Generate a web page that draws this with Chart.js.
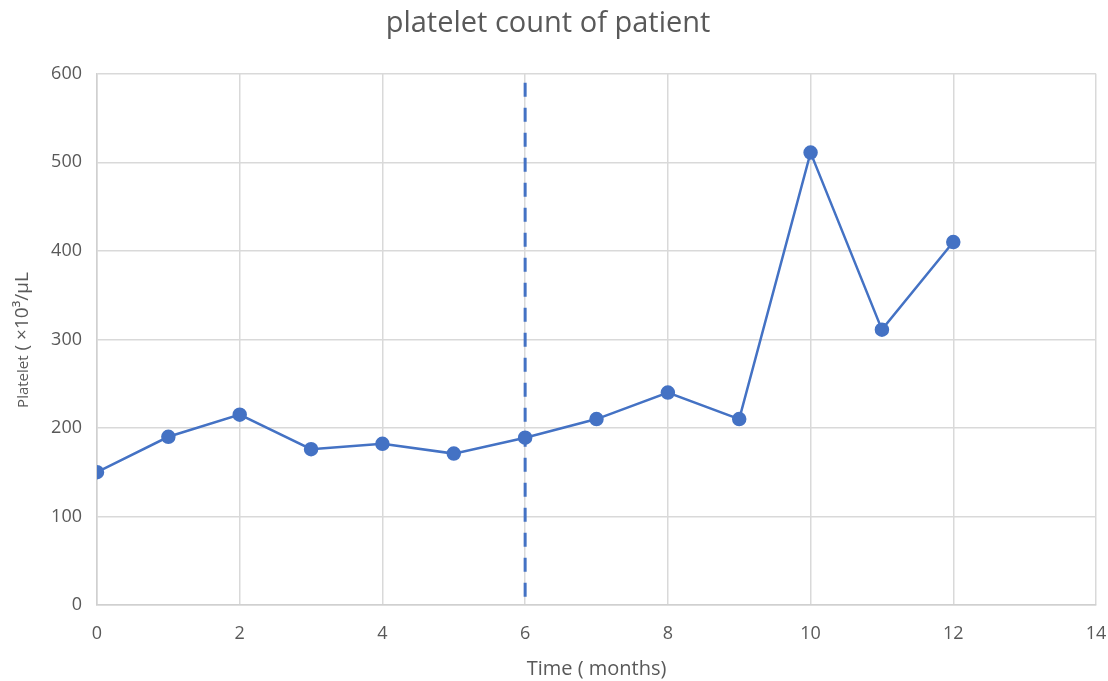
<!DOCTYPE html>
<html>
<head>
<meta charset="utf-8">
<script src="https://cdn.jsdelivr.net/npm/chart.js@4"></script>
<style>
  html, body { margin: 0; padding: 0; background: #fff; }
  #wrap { width: 1108px; height: 681px; }
</style>
</head>
<body>
<div id="wrap"><canvas id="chart"></canvas></div>
<script>
const months = [0, 1, 2, 3, 4, 5, 6, 7, 8, 9, 10, 11, 12];
const platelets = [150, 190, 215, 176, 182, 171, 189, 210, 240, 210, 511, 311, 410];
const markerX = [6, 6];
const markerY = [590, 0];

const blue = "#4472C4";
const grey = "#595959";
const font = "'Open Sans', 'Noto Sans', sans-serif";

// y axis title has two sizes, so draw it by hand
const yTitle = {
  id: "yTitle",
  afterDraw(chart) {
    const ctx = chart.ctx;
    const small = "15px " + font;
    const big = "19px " + font;
    ctx.save();
    ctx.font = small;
    const w1 = ctx.measureText("Platelet").width;
    ctx.font = big;
    const w2 = ctx.measureText(" ( ×10³/µL").width;
    ctx.translate(22, 340);
    ctx.rotate(-Math.PI / 2);
    ctx.fillStyle = grey;
    ctx.textBaseline = "alphabetic";
    let x = -(w1 + w2) / 2;
    ctx.font = small;
    ctx.fillText("Platelet", x, 6);
    ctx.font = big;
    ctx.fillText(" ( ×10³/µL", x + w1, 6);
    ctx.restore();
  }
};

new Chart(document.getElementById("chart"), {
  type: "line",
  data: {
    datasets: [
      {
        data: months.map((m, i) => ({ x: m, y: platelets[i] })),
        borderColor: blue,
        backgroundColor: blue,
        borderWidth: 2.5,
        pointRadius: 6,
        pointHoverRadius: 6,
        tension: 0
      },
      {
        data: markerX.map((m, i) => ({ x: m, y: markerY[i] })),
        borderColor: blue,
        borderWidth: 3,
        borderDash: [14, 11],
        pointRadius: 0
      }
    ]
  },
  options: {
    responsive: true,
    maintainAspectRatio: false,
    animation: false,
    layout: { padding: { left: 0, right: 12, top: 0, bottom: 0 } },
    plugins: {
      legend: { display: false },
      tooltip: { enabled: false },
      title: {
        display: true,
        text: "platelet count of patient",
        color: grey,
        font: { family: font, size: 29, weight: "normal" },
        padding: { top: 6, bottom: 33 }
      }
    },
    scales: {
      x: {
        type: "linear",
        min: 0,
        max: 14,
        ticks: { stepSize: 2, color: grey, font: { family: font, size: 18 }, padding: 18 },
        grid: { color: "#d9d9d9", lineWidth: 1.5, drawTicks: false },
        border: { color: "#d0d0d0", width: 1.5 },
        title: {
          display: true,
          text: "Time ( months)",
          color: grey,
          font: { family: font, size: 20 },
          padding: { top: 2, bottom: 0 }
        },
        afterFit(s) {
          s.height = 76;
          s.paddingLeft = 0;
          s.paddingRight = 0;
        }
      },
      y: {
        min: 0,
        max: 600,
        ticks: { stepSize: 100, color: grey, font: { family: font, size: 18 }, padding: 15 },
        grid: { color: "#d9d9d9", lineWidth: 1.5, drawTicks: false },
        border: { color: "#d0d0d0", width: 1.5 },
        afterFit(s) { s.width = 97; }
      }
    }
  },
  plugins: [yTitle]
});
</script>
</body>
</html>
